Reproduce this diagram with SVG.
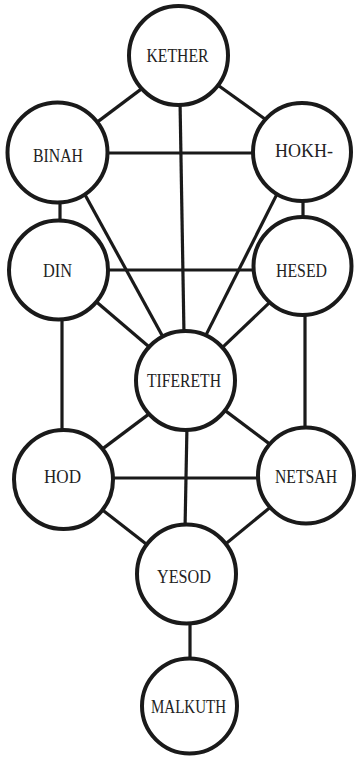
<svg xmlns="http://www.w3.org/2000/svg" width="357" height="760" viewBox="0 0 357 760">
<style>
.c{fill:#fff;stroke:#1a1a1a;stroke-width:4}
.l{stroke:#1a1a1a;stroke-width:3.2;fill:none;stroke-linecap:butt}
text{font-family:"Liberation Serif","Times New Roman",serif;font-size:18px;fill:#222;text-anchor:middle}
</style>
<rect width="357" height="760" fill="#fff"/>
<g id="connectors">
<line class="l" x1="95.2" y1="123.6" x2="144.8" y2="86.4"/>
<line class="l" x1="217" y1="84.5" x2="267" y2="120.5"/>
<line class="l" x1="180" y1="100" x2="184" y2="335"/>
<line class="l" x1="105" y1="153" x2="255" y2="153"/>
<line class="l" x1="60" y1="200" x2="60" y2="225"/>
<line class="l" x1="303" y1="198" x2="303" y2="222"/>
<line class="l" x1="85" y1="194.7" x2="163" y2="337"/>
<line class="l" x1="277.7" y1="192.6" x2="204.3" y2="338.4"/>
<line class="l" x1="105" y1="270" x2="256" y2="270"/>
<line class="l" x1="95.4" y1="301" x2="151.6" y2="349"/>
<line class="l" x1="271.3" y1="300.9" x2="220.7" y2="349.1"/>
<line class="l" x1="62" y1="315" x2="62" y2="432"/>
<line class="l" x1="305" y1="312" x2="305" y2="428"/>
<line class="l" x1="149.8" y1="413.4" x2="100.2" y2="450.6"/>
<line class="l" x1="222.2" y1="408.4" x2="271.8" y2="445.6"/>
<line class="l" x1="187" y1="425" x2="185" y2="530"/>
<line class="l" x1="110" y1="478" x2="262" y2="478"/>
<line class="l" x1="100.3" y1="508.3" x2="149.7" y2="546.7"/>
<line class="l" x1="271.6" y1="506.2" x2="223.4" y2="545.8"/>
<line class="l" x1="190" y1="620" x2="190" y2="662"/>
</g>
<g id="kether"><circle class="c" cx="178.5" cy="55.5" r="49.5"/><text x="177.5" y="62" textLength="62" lengthAdjust="spacingAndGlyphs">KETHER</text></g>
<g id="binah"><circle class="c" cx="57.5" cy="152.5" r="50"/><text x="58" y="161.5" textLength="50" lengthAdjust="spacingAndGlyphs">BINAH</text></g>
<g id="hokhmah"><circle class="c" cx="302" cy="152" r="49"/><text x="304" y="157" textLength="58" lengthAdjust="spacingAndGlyphs">HOKH-</text></g>
<g id="din"><circle class="c" cx="58.5" cy="270" r="49.5"/><text x="57.5" y="277" textLength="29" lengthAdjust="spacingAndGlyphs">DIN</text></g>
<g id="hesed"><circle class="c" cx="302.5" cy="266" r="49"/><text x="301.5" y="277" textLength="51" lengthAdjust="spacingAndGlyphs">HESED</text></g>
<g id="tifereth"><circle class="c" cx="185.5" cy="380.5" r="49.5"/><text x="184" y="387" textLength="74" lengthAdjust="spacingAndGlyphs">TIFERETH</text></g>
<g id="hod"><circle class="c" cx="63.5" cy="479.5" r="49.5"/><text x="62.5" y="483" textLength="37" lengthAdjust="spacingAndGlyphs">HOD</text></g>
<g id="netsah"><circle class="c" cx="306" cy="475.5" r="48"/><text x="306" y="483" textLength="62" lengthAdjust="spacingAndGlyphs">NETSAH</text></g>
<g id="yesod"><circle class="c" cx="186.5" cy="574" r="49.5"/><text x="184" y="583" textLength="54" lengthAdjust="spacingAndGlyphs">YESOD</text></g>
<g id="malkuth"><circle class="c" cx="189.5" cy="706" r="47.5"/><text x="188.5" y="713" textLength="75" lengthAdjust="spacingAndGlyphs">MALKUTH</text></g>
</svg>
